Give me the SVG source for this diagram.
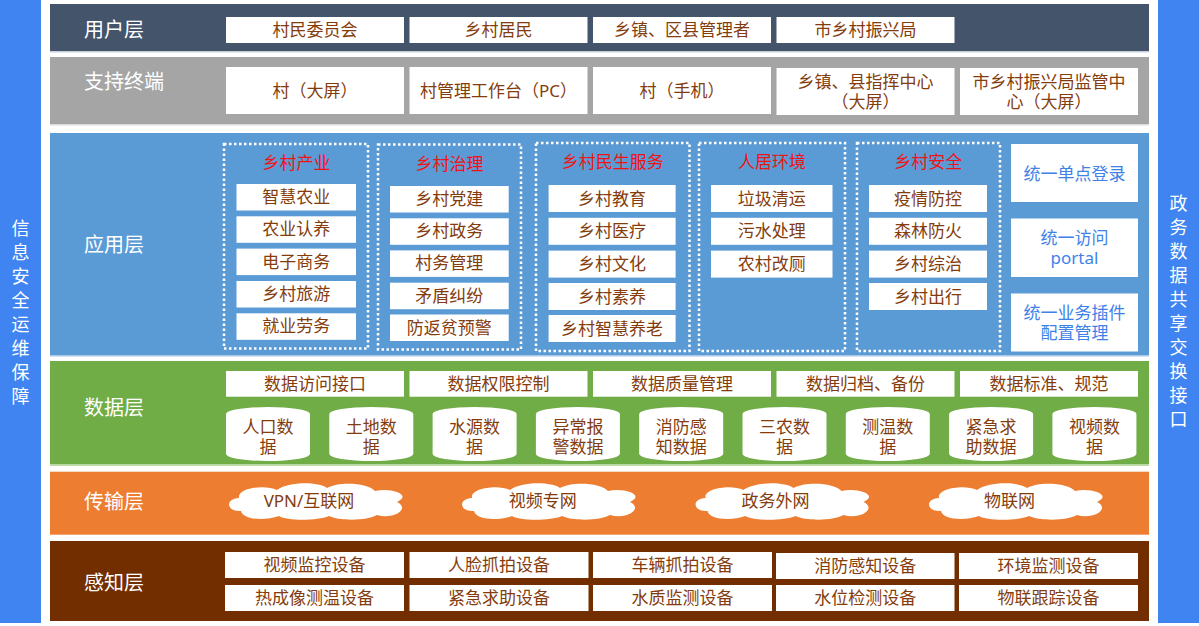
<svg xmlns="http://www.w3.org/2000/svg" xmlns:xlink="http://www.w3.org/1999/xlink" width="1199" height="626" viewBox="0 0 1199 626">
<defs>
<style>
text{font-family:"Noto Sans","Noto Sans CJK SC",sans-serif}
.lbl{fill:#fff;font-size:20px}
.box{fill:#fff}
.bt{fill:#843C0C;font-size:17px;text-anchor:middle}
.tt{fill:#EE1414;font-size:17px;text-anchor:middle}
.bl{fill:#3E82E8;font-size:17px;text-anchor:middle}
.grp{fill:none;stroke:#fff;stroke-width:2.5;stroke-dasharray:2.5 2.5}
.side{fill:#3F84F1}
.st{fill:#fff;font-size:18px;text-anchor:middle}
</style>
<path id="cyl" d="M0,7 A42,7 0 0 1 84,7 V47 A42,7 0 0 1 0,47 Z" fill="#fff"/>
<path id="cloud" fill="#fff" d="M14 30 C0 31,-3 18,12 17 C10 7,38 3,50 9 C60 1,90 0,100 7 C112 0,142 2,148 10 C164 6,186 14,170 21 C184 28,166 39,150 34 C140 40,112 40,102 35 C90 40,60 40,52 35 C38 40,16 39,14 30 Z"/>
</defs>
<rect width="1199" height="626" fill="#fff"/>

<!-- side bars -->
<g id="side-left">
<rect class="side" x="0" y="0" width="41" height="623"/>
<text class="st"><tspan x="20.5" y="234.8">信</tspan><tspan x="20.5" y="258.8">息</tspan><tspan x="20.5" y="282.8">安</tspan><tspan x="20.5" y="306.8">全</tspan><tspan x="20.5" y="330.8">运</tspan><tspan x="20.5" y="354.8">维</tspan><tspan x="20.5" y="378.8">保</tspan><tspan x="20.5" y="402.8">障</tspan></text>
</g>
<g id="side-right">
<rect class="side" x="1158" y="0" width="41" height="623"/>
<text class="st"><tspan x="1178.5" y="209.8">政</tspan><tspan x="1178.5" y="233.8">务</tspan><tspan x="1178.5" y="257.8">数</tspan><tspan x="1178.5" y="281.8">据</tspan><tspan x="1178.5" y="305.8">共</tspan><tspan x="1178.5" y="329.8">享</tspan><tspan x="1178.5" y="353.8">交</tspan><tspan x="1178.5" y="377.8">换</tspan><tspan x="1178.5" y="401.8">接</tspan><tspan x="1178.5" y="425.8">口</tspan></text>
</g>

<!-- user layer -->
<g id="layer-user">
<rect x="50" y="4" width="1099" height="47" fill="#44546A"/>
<rect x="50" y="51" width="1099" height="1.5" fill="#c9d0da"/>
<text class="lbl" x="84" y="37">用户层</text>
<rect class="box" x="226" y="17" width="178" height="26"/><text class="bt" x="315" y="36">村民委员会</text>
<rect class="box" x="409.5" y="17" width="178" height="26"/><text class="bt" x="498.5" y="36">乡村居民</text>
<rect class="box" x="593" y="17" width="178" height="26"/><text class="bt" x="682" y="36">乡镇、区县管理者</text>
<rect class="box" x="776.5" y="17" width="178" height="26"/><text class="bt" x="865.5" y="36">市乡村振兴局</text>
</g>

<!-- terminal layer -->
<g id="layer-terminal">
<rect x="50" y="57" width="1099" height="67" fill="#A5A5A5"/>
<rect x="50" y="124" width="1099" height="1.5" fill="#dcdcdc"/>
<text class="lbl" x="84" y="88.7">支持终端</text>
<rect class="box" x="226" y="67" width="178" height="47"/><text class="bt" x="315" y="97">村（大屏）</text>
<rect class="box" x="409.5" y="67" width="178" height="47"/><text class="bt" x="498.5" y="97">村管理工作台（PC）</text>
<rect class="box" x="593" y="67" width="178" height="47"/><text class="bt" x="682" y="97">村（手机）</text>
<rect class="box" x="776.5" y="68" width="178" height="47"/><text class="bt"><tspan x="865.5" y="87.7">乡镇、县指挥中心</tspan><tspan x="865.5" y="107.7">（大屏）</tspan></text>
<rect class="box" x="960" y="68" width="178" height="47"/><text class="bt"><tspan x="1049" y="87.7">市乡村振兴局监管中</tspan><tspan x="1049" y="107.7">心（大屏）</tspan></text>
</g>

<!-- application layer -->
<g id="layer-app">
<rect x="50" y="133" width="1099" height="222" fill="#5B9BD5"/>
<rect x="50" y="355" width="1099" height="1.5" fill="#a9c8ea"/>
<text class="lbl" x="84" y="252">应用层</text>
</g>
<g id="grp-industry">
<rect class="grp" x="224" y="144" width="144" height="204.5"/>
<text class="tt" x="296.5" y="168.5">乡村产业</text>
<rect class="box" x="236.5" y="184" width="119.5" height="26.5"/><text class="bt" x="296.2" y="203">智慧农业</text>
<rect class="box" x="236.5" y="216.3" width="119.5" height="26.5"/><text class="bt" x="296.2" y="235.3">农业认养</text>
<rect class="box" x="236.5" y="248.6" width="119.5" height="26.5"/><text class="bt" x="296.2" y="267.6">电子商务</text>
<rect class="box" x="236.5" y="281" width="119.5" height="26.5"/><text class="bt" x="296.2" y="300">乡村旅游</text>
<rect class="box" x="236.5" y="313.3" width="119.5" height="26.5"/><text class="bt" x="296.2" y="332.3">就业劳务</text>
</g>
<g id="grp-governance">
<rect class="grp" x="378" y="144.5" width="143" height="205"/>
<text class="tt" x="449.5" y="169.5">乡村治理</text>
<rect class="box" x="390" y="186" width="118.7" height="26.5"/><text class="bt" x="449.3" y="205">乡村党建</text>
<rect class="box" x="390" y="218.3" width="118.7" height="26.5"/><text class="bt" x="449.3" y="237.3">乡村政务</text>
<rect class="box" x="390" y="250.4" width="118.7" height="26.5"/><text class="bt" x="449.3" y="269.4">村务管理</text>
<rect class="box" x="390" y="282.7" width="118.7" height="26.5"/><text class="bt" x="449.3" y="301.7">矛盾纠纷</text>
<rect class="box" x="390" y="314.5" width="118.7" height="26.5"/><text class="bt" x="449.3" y="333.5">防返贫预警</text>
</g>
<g id="grp-livelihood">
<rect class="grp" x="536" y="143" width="153.5" height="208"/>
<text class="tt" x="612.7" y="168">乡村民生服务</text>
<rect class="box" x="548.6" y="185" width="127" height="27"/><text class="bt" x="612.1" y="204.5">乡村教育</text>
<rect class="box" x="548.6" y="217.8" width="127" height="27"/><text class="bt" x="612.1" y="237.3">乡村医疗</text>
<rect class="box" x="548.6" y="250.6" width="127" height="27"/><text class="bt" x="612.1" y="270.1">乡村文化</text>
<rect class="box" x="548.6" y="283" width="127" height="27"/><text class="bt" x="612.1" y="302.5">乡村素养</text>
<rect class="box" x="548.6" y="315" width="127" height="27"/><text class="bt" x="612.1" y="334.5">乡村智慧养老</text>
</g>
<g id="grp-environment">
<rect class="grp" x="699" y="143" width="146" height="208"/>
<text class="tt" x="772" y="168">人居环境</text>
<rect class="box" x="711" y="185" width="121.5" height="27"/><text class="bt" x="771.7" y="204.5">垃圾清运</text>
<rect class="box" x="711" y="217.8" width="121.5" height="27"/><text class="bt" x="771.7" y="237.3">污水处理</text>
<rect class="box" x="711" y="250.6" width="121.5" height="27"/><text class="bt" x="771.7" y="270.1">农村改厕</text>
</g>
<g id="grp-safety">
<rect class="grp" x="857" y="143" width="143" height="208"/>
<text class="tt" x="928.3" y="168">乡村安全</text>
<rect class="box" x="869" y="185" width="118" height="27"/><text class="bt" x="928" y="204.5">疫情防控</text>
<rect class="box" x="869" y="217.8" width="118" height="27"/><text class="bt" x="928" y="237.3">森林防火</text>
<rect class="box" x="869" y="250.6" width="118" height="27"/><text class="bt" x="928" y="270.1">乡村综治</text>
<rect class="box" x="869" y="283" width="118" height="27"/><text class="bt" x="928" y="302.5">乡村出行</text>
</g>
<g id="node-sso">
<rect class="box" x="1011" y="144" width="127" height="58"/><text class="bl" x="1074.5" y="180">统一单点登录</text>
</g>
<g id="node-portal">
<rect class="box" x="1011" y="218.5" width="127" height="58.5"/><text class="bl"><tspan x="1074.5" y="244">统一访问</tspan><tspan x="1074.5" y="264">portal</tspan></text>
</g>
<g id="node-plugin">
<rect class="box" x="1011" y="293.5" width="127" height="58"/><text class="bl"><tspan x="1074.5" y="318.5">统一业务插件</tspan><tspan x="1074.5" y="338.5">配置管理</tspan></text>
</g>

<!-- data layer -->
<g id="layer-data">
<rect x="50" y="361" width="1099" height="103.5" fill="#70AD47"/>
<rect x="50" y="464.5" width="1099" height="1.5" fill="#bcdba6"/>
<text class="lbl" x="84" y="415.3">数据层</text>
<rect class="box" x="226" y="371" width="178" height="25.7"/><text class="bt" x="315" y="390">数据访问接口</text>
<rect class="box" x="409.5" y="371" width="178" height="25.7"/><text class="bt" x="498.5" y="390">数据权限控制</text>
<rect class="box" x="593" y="371" width="178" height="25.7"/><text class="bt" x="682" y="390">数据质量管理</text>
<rect class="box" x="776.5" y="371" width="178" height="25.7"/><text class="bt" x="865.5" y="390">数据归档、备份</text>
<rect class="box" x="960" y="371" width="178" height="25.7"/><text class="bt" x="1049" y="390">数据标准、规范</text>
</g>
<g id="db-population"><use xlink:href="#cyl" x="226" y="407"/><text class="bt"><tspan x="268" y="432.7">人口数</tspan><tspan x="268" y="452.7">据</tspan></text></g>
<g id="db-land"><use xlink:href="#cyl" x="329.3" y="407"/><text class="bt"><tspan x="371.3" y="432.7">土地数</tspan><tspan x="371.3" y="452.7">据</tspan></text></g>
<g id="db-water"><use xlink:href="#cyl" x="432.6" y="407"/><text class="bt"><tspan x="474.6" y="432.7">水源数</tspan><tspan x="474.6" y="452.7">据</tspan></text></g>
<g id="db-alarm"><use xlink:href="#cyl" x="535.9" y="407"/><text class="bt"><tspan x="577.9" y="432.7">异常报</tspan><tspan x="577.9" y="452.7">警数据</tspan></text></g>
<g id="db-fire"><use xlink:href="#cyl" x="639.2" y="407"/><text class="bt"><tspan x="681.2" y="432.7">消防感</tspan><tspan x="681.2" y="452.7">知数据</tspan></text></g>
<g id="db-agri"><use xlink:href="#cyl" x="742.5" y="407"/><text class="bt"><tspan x="784.5" y="432.7">三农数</tspan><tspan x="784.5" y="452.7">据</tspan></text></g>
<g id="db-temp"><use xlink:href="#cyl" x="845.8" y="407"/><text class="bt"><tspan x="887.8" y="432.7">测温数</tspan><tspan x="887.8" y="452.7">据</tspan></text></g>
<g id="db-sos"><use xlink:href="#cyl" x="949.1" y="407"/><text class="bt"><tspan x="991.1" y="432.7">紧急求</tspan><tspan x="991.1" y="452.7">助数据</tspan></text></g>
<g id="db-video"><use xlink:href="#cyl" x="1052.4" y="407"/><text class="bt"><tspan x="1094.4" y="432.7">视频数</tspan><tspan x="1094.4" y="452.7">据</tspan></text></g>

<!-- transport layer -->
<g id="layer-transport">
<rect x="50" y="471.7" width="1099" height="63" fill="#ED7D31"/>
<text class="lbl" x="84" y="508.7">传输层</text>
</g>
<g id="net-vpn"><use xlink:href="#cloud" x="227" y="481"/><text class="bt" x="309" y="507">VPN/互联网</text></g>
<g id="net-video"><use xlink:href="#cloud" x="460" y="481"/><text class="bt" x="542.7" y="507">视频专网</text></g>
<g id="net-gov"><use xlink:href="#cloud" x="693.5" y="481"/><text class="bt" x="775.5" y="507">政务外网</text></g>
<g id="net-iot"><use xlink:href="#cloud" x="927" y="481"/><text class="bt" x="1009.5" y="507">物联网</text></g>

<!-- perception layer -->
<g id="layer-perception">
<rect x="50" y="541" width="1099" height="80" fill="#732E00"/>
<text class="lbl" x="84" y="589.7">感知层</text>
<rect class="box" x="225" y="552" width="179" height="26"/><text class="bt" x="314.5" y="571">视频监控设备</text>
<rect class="box" x="409.5" y="552" width="179" height="26"/><text class="bt" x="499" y="571">人脸抓拍设备</text>
<rect class="box" x="593" y="552" width="179" height="26"/><text class="bt" x="682.5" y="571">车辆抓拍设备</text>
<rect class="box" x="776" y="553" width="178.5" height="26"/><text class="bt" x="865.2" y="572">消防感知设备</text>
<rect class="box" x="959" y="553" width="179" height="26"/><text class="bt" x="1048.5" y="572">环境监测设备</text>
<rect class="box" x="225" y="585" width="179" height="26"/><text class="bt" x="314.5" y="604">热成像测温设备</text>
<rect class="box" x="409.5" y="585" width="179" height="26"/><text class="bt" x="499" y="604">紧急求助设备</text>
<rect class="box" x="593" y="585" width="179" height="26"/><text class="bt" x="682.5" y="604">水质监测设备</text>
<rect class="box" x="776" y="585" width="178.5" height="26"/><text class="bt" x="865.2" y="604">水位检测设备</text>
<rect class="box" x="959" y="585" width="179" height="26"/><text class="bt" x="1048.5" y="604">物联跟踪设备</text>
</g>

<g id="connectors"/>
</svg>
